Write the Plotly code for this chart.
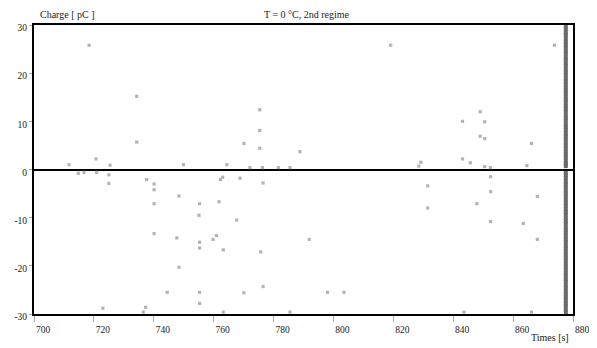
import plotly.graph_objects as go

# Scattered charge events (time [s], charge [pC])
event_times = [
    718.4, 734.3, 734.3, 720.7, 711.7, 725.4, 749.9, 819.1, 775.4, 775.4,
    770.1, 775.4, 788.8, 764.4, 772.1, 776.3, 781.6, 785.5, 873.8, 849.0,
    843.1, 850.5, 849.0, 850.5, 866.1, 843.1, 845.7, 829.2, 828.5, 850.5,
    852.4, 864.6,
    714.8, 716.7, 720.9, 725.0, 725.0, 737.6, 740.1, 740.1, 748.4, 740.1,
    755.3, 755.1, 740.1, 747.7, 755.3, 755.3, 759.8, 748.4, 744.5, 755.3,
    755.3, 723.0, 737.3, 736.5, 762.3, 763.0, 768.8, 776.5, 761.8, 767.7,
    760.9, 763.2, 775.7, 791.9, 776.5, 770.1, 798.0, 803.5, 763.2, 785.5,
    852.5, 831.5, 852.5, 868.1, 847.9, 831.5, 852.5, 863.4, 868.1, 843.6,
    866.1,
]
event_charges = [
    25.8, 15.2, 5.7, 2.2, 1.0, 0.9, 1.0, 25.8, 12.4, 8.1,
    5.4, 4.4, 3.7, 1.0, 0.4, 0.4, 0.4, 0.4, 25.8, 12.0,
    10.0, 9.9, 6.9, 6.4, 5.4, 2.2, 1.4, 1.5, 0.7, 0.6,
    0.4, 0.8,
    -0.8, -0.6, -0.6, -1.1, -2.9, -2.1, -3.0, -4.2, -5.5, -7.1,
    -7.1, -9.5, -13.3, -14.2, -15.1, -16.3, -14.5, -20.3, -25.5, -25.5,
    -27.8, -28.8, -28.6, -29.6, -2.1, -1.6, -1.8, -2.8, -6.7, -10.5,
    -13.7, -16.7, -17.1, -14.5, -24.3, -25.6, -25.5, -25.5, -29.6, -29.6,
    -1.5, -3.4, -4.6, -5.6, -7.1, -8.0, -10.8, -11.2, -14.5, -29.6,
    -29.6,
]

# Dense burst of events at the end of the record
burst_time = 877.6
burst_charges = [
    29.7, 29.1, 28.4, 27.9, 27.2, 26.5, 25.9, 25.3, 24.6, 24.0,
    23.3, 22.8, 22.1, 21.5, 20.8, 20.2, 19.6, 18.9, 18.3, 17.7,
    17.0, 16.4, 15.8, 15.1, 14.5, 13.9, 13.2, 12.6, 12.0, 11.3,
    10.7, 10.1, 9.4, 8.8, 8.2, 7.5, 6.9, 6.3, 5.6, 5.0,
    4.4, 3.7, 3.1, 2.5, 1.8, 1.2, 0.7,
    -0.7, -1.2, -1.8, -2.5, -3.1, -3.7, -4.4, -5.0, -5.6, -6.3,
    -6.9, -7.5, -8.2, -8.8, -9.4, -10.1, -10.7, -11.3, -12.0, -12.6,
    -13.2, -13.9, -14.5, -15.1, -15.8, -16.4, -17.0, -17.7, -18.3, -18.9,
    -19.6, -20.2, -20.8, -21.5, -22.1, -22.8, -23.3, -24.0, -24.6, -25.3,
    -25.9, -26.5, -27.2, -27.9, -28.4, -29.1, -29.7,
]

x_ticks = [700, 720, 740, 760, 780, 800, 820, 840, 860, 880]
y_ticks = [-30, -20, -10, 0, 10, 20, 30]

FONT = "Liberation Serif"

fig = go.Figure()
fig.add_trace(go.Scatter(
    x=event_times, y=event_charges, mode="markers",
    marker=dict(symbol="square", size=3.2, color="#b4b4b4"),
    showlegend=False, hoverinfo="x+y",
))
fig.add_trace(go.Scatter(
    x=[burst_time] * len(burst_charges), y=burst_charges, mode="markers",
    marker=dict(symbol="square", size=4, color="#6a6a6a"),
    showlegend=False, hoverinfo="x+y",
))

# page body has an 8px margin, so the figure is sized/offset to compensate
fig.update_layout(
    width=589, height=340,
    margin=dict(l=26, r=24, t=17, b=34, autoexpand=False),
    paper_bgcolor="white", plot_bgcolor="white",
    font=dict(family=FONT, size=10, color="#222"),
    showlegend=False,
    xaxis=dict(
        range=[700, 880], tickvals=x_ticks, ticktext=[str(v) for v in x_ticks],
        showgrid=False, zeroline=False,
        showline=True, linecolor="black", linewidth=2, mirror=True,
        ticks="outside", ticklen=6, tickcolor="#aaaaaa", tickwidth=1,
        ticklabelshift=9, ticklabelstandoff=0, ticklabeloverflow="allow",
        tickfont=dict(family=FONT, size=9.5, color="#222"),
    ),
    yaxis=dict(
        range=[-30, 30], tickvals=y_ticks, ticktext=[str(v) for v in y_ticks],
        showgrid=False, zeroline=True, zerolinecolor="black", zerolinewidth=2,
        showline=True, linecolor="black", linewidth=2, mirror=True,
        ticks="outside", ticklen=3, tickcolor="#aaaaaa", tickwidth=1,
        ticklabelshift=3, ticklabeloverflow="allow",
        tickfont=dict(family=FONT, size=9.5, color="#222"),
    ),
    annotations=[
        dict(text="Charge [ pC ]", xref="paper", yref="paper",
             x=0.007, y=1.038, xanchor="left", yanchor="middle",
             showarrow=False, font=dict(family=FONT, size=10, color="#222")),
        dict(text="T = 0 °C, 2nd regime", xref="paper", yref="paper",
             x=0.507, y=1.038, xanchor="center", yanchor="middle",
             showarrow=False, font=dict(family=FONT, size=10, color="#222")),
        dict(text="Times [s]", xref="paper", yref="paper",
             x=0.996, y=-0.083, xanchor="right", yanchor="middle",
             showarrow=False, font=dict(family=FONT, size=10, color="#222")),
    ],
)

fig.write_html("out.html")
